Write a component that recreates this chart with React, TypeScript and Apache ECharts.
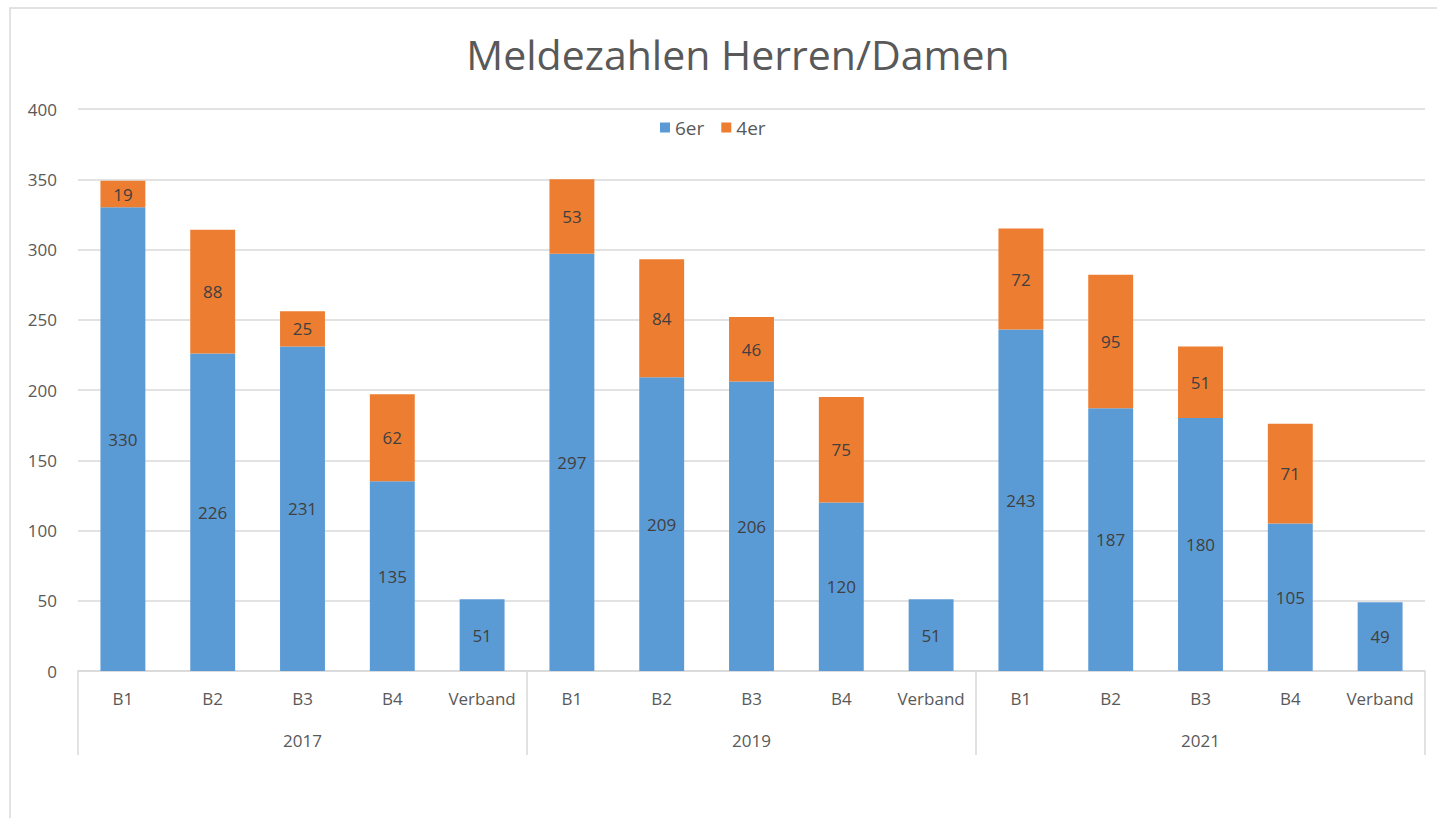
import React, { useEffect, useRef } from "react";
import * as echarts from "echarts";

const years = ["2017", "2019", "2021"];
const groups = ["B1", "B2", "B3", "B4", "Verband"];
const categories = years.flatMap(() => groups);
const values6er = [330, 226, 231, 135, 51, 297, 209, 206, 120, 51, 243, 187, 180, 105, 49];
const values4er = [19, 88, 25, 62, null, 53, 84, 46, 75, null, 72, 95, 51, 71, null];
const yTicks = { min: 0, max: 400, interval: 50 };

const FONT = "'Open Sans', 'Noto Sans', sans-serif";
const TXT = "#595959";

export default function App() {
  const ref = useRef<HTMLDivElement>(null);
  useEffect(() => {
    if (!ref.current) return;
    const chart = echarts.init(ref.current, null, { renderer: "svg" });
    chart.setOption({
      animation: false,
      backgroundColor: "#ffffff",
      textStyle: { fontFamily: FONT },
      title: {
        text: "Meldezahlen Herren/Damen",
        left: 733,
        textAlign: "center",
        top: 28,
        textStyle: { fontFamily: FONT, fontSize: 41, fontWeight: "normal", color: TXT },
      },
      legend: {
        data: ["6er", "4er"],
        left: 655,
        top: 113,
        itemWidth: 10,
        itemHeight: 10,
        itemGap: 17,
        icon: "rect",
        textStyle: { fontFamily: FONT, fontSize: 19, color: TXT, padding: [0, 0, 0, 0] },
      },
      graphic: [
        {
          type: "rect",
          shape: { x: 10, y: 8, width: 1440, height: 830 },
          style: { fill: "none", stroke: "#d9d9d9", lineWidth: 1.5 },
          silent: true,
        },
      ],
      grid: { left: 78, right: 12, top: 109, bottom: 147, containLabel: false },
      xAxis: [
        {
          type: "category",
          data: categories,
          position: "bottom",
          axisLine: { show: true, lineStyle: { color: "#d9d9d9", width: 1.5 } },
          axisTick: { show: false },
          axisLabel: { interval: 0, margin: 19, fontFamily: FONT, fontSize: 17, color: TXT },
        },
        {
          type: "category",
          data: years,
          position: "bottom",
          axisLine: { show: false },
          axisTick: { show: true, length: 84, lineStyle: { color: "#d9d9d9", width: 1.5 } },
          axisLabel: { interval: 0, margin: 61, fontFamily: FONT, fontSize: 17, color: TXT },
        },
      ],
      yAxis: {
        type: "value",
        min: yTicks.min,
        max: yTicks.max,
        interval: yTicks.interval,
        axisLine: { show: false },
        axisTick: { show: false },
        axisLabel: { margin: 21, fontFamily: FONT, fontSize: 17, color: TXT },
        splitLine: { lineStyle: { color: "#d9d9d9", width: 1.5 } },
      },
      series: [
        {
          name: "6er",
          type: "bar",
          stack: "total",
          xAxisIndex: 0,
          barWidth: "50%",
          data: values6er,
          itemStyle: { color: "#5B9BD5" },
          label: { show: true, position: "inside", color: "#404040", fontFamily: FONT, fontSize: 17 },
        },
        {
          name: "4er",
          type: "bar",
          stack: "total",
          xAxisIndex: 0,
          barWidth: "50%",
          data: values4er,
          itemStyle: { color: "#ED7D31" },
          label: { show: true, position: "inside", color: "#404040", fontFamily: FONT, fontSize: 17 },
        },
      ],
    });
    return () => chart.dispose();
  }, []);
  return (
    <div
      ref={ref}
      style={{ position: "fixed", left: 0, top: 0, width: 1437, height: 818 }}
    />
  );
}
